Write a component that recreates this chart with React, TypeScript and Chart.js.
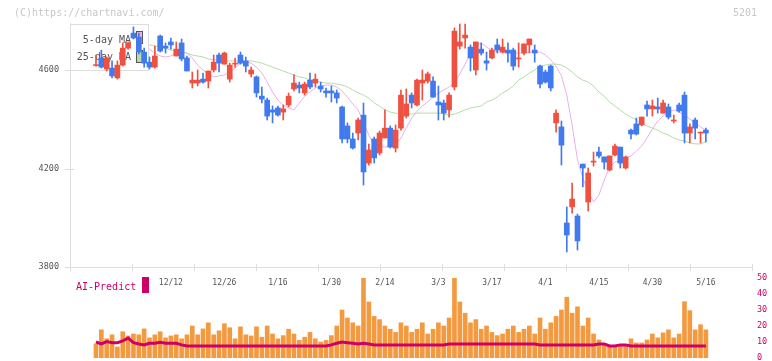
import React, { useEffect, useRef } from 'react';
import { Chart, registerables } from 'chart.js';

Chart.register(...registerables);

const MONO = '"DejaVu Sans Mono", "Liberation Mono", monospace';

// ---- data ----
const X_MIN = -4.86;
const X_MAX = 122.62;
const TICK_INDEX = [14, 24, 34, 44, 54, 64, 74, 84, 94, 104, 114];
const TICK_LABELS = ['12/12', '12/26', '1/16', '1/30', '2/14', '3/3', '3/17', '4/1', '4/15', '4/30', '5/16'];
const PRICE_TICKS = [3800, 4200, 4600];
const PRICE_MIN = 3800;
const PRICE_MAX = 4791;
const VOLUME_TICKS = [0, 10, 20, 30, 40, 50];

const OPEN = [
  4618, 4649, 4604, 4608, 4568, 4620, 4689, 4750, 4734, 4673,
  4632, 4612, 4738, 4697, 4714, 4657, 4710, 4649, 4547, 4547,
  4563, 4555, 4600, 4661, 4624, 4563, 4624, 4661, 4637, 4584,
  4572, 4494, 4478, 4438, 4446, 4429, 4458, 4523, 4539, 4507,
  4559, 4547, 4535, 4515, 4515, 4507, 4450, 4373, 4320, 4344,
  4417, 4222, 4320, 4263, 4324, 4364, 4283, 4364, 4413, 4498,
  4458, 4547, 4555, 4555, 4470, 4466, 4438, 4531, 4697, 4730,
  4693, 4600, 4685, 4637, 4649, 4702, 4673, 4681, 4681, 4645,
  4669, 4702, 4681, 4616, 4592, 4616, 4385, 4369, 3979, 4044,
  4007, 4218, 4064, 4226, 4267, 4247, 4194, 4255, 4287, 4202,
  4356, 4381, 4377, 4458, 4442, 4450, 4425, 4450, 4393, 4458,
  4498, 4344, 4397, 4344, 4356,
];
const HIGH = [
  4661, 4681, 4653, 4637, 4637, 4710, 4714, 4775, 4750, 4689,
  4653, 4697, 4742, 4710, 4730, 4714, 4726, 4657, 4592, 4600,
  4588, 4596, 4661, 4669, 4673, 4628, 4649, 4673, 4653, 4612,
  4576, 4531, 4486, 4454, 4454, 4458, 4507, 4580, 4551, 4551,
  4588, 4584, 4551, 4527, 4535, 4519, 4454, 4385, 4344, 4405,
  4466, 4299, 4328, 4352, 4438, 4373, 4377, 4519, 4523, 4507,
  4563, 4600, 4592, 4572, 4535, 4478, 4507, 4771, 4787, 4787,
  4702, 4714, 4710, 4673, 4689, 4726, 4726, 4710, 4689, 4710,
  4706, 4726, 4702, 4620, 4600, 4620, 4438, 4393, 4044, 4141,
  4015, 4218, 4202, 4267, 4287, 4247, 4251, 4299, 4287, 4251,
  4360, 4405, 4409, 4474, 4478, 4486, 4478, 4462, 4417, 4466,
  4511, 4381, 4405, 4348, 4364,
];
const LOW = [
  4616, 4608, 4596, 4568, 4563, 4616, 4685, 4726, 4665, 4612,
  4604, 4608, 4673, 4669, 4685, 4657, 4637, 4596, 4527, 4535,
  4547, 4527, 4592, 4592, 4624, 4551, 4612, 4624, 4592, 4572,
  4490, 4466, 4397, 4385, 4413, 4397, 4450, 4515, 4507, 4498,
  4523, 4531, 4511, 4490, 4470, 4466, 4304, 4304, 4279, 4316,
  4133, 4214, 4222, 4255, 4324, 4283, 4267, 4356, 4405, 4446,
  4454, 4478, 4547, 4490, 4397, 4397, 4409, 4519, 4685, 4689,
  4596, 4580, 4661, 4600, 4645, 4669, 4669, 4632, 4600, 4612,
  4661, 4669, 4632, 4527, 4547, 4515, 4348, 4214, 3861, 4019,
  3869, 4125, 4027, 4210, 4243, 4198, 4190, 4251, 4202, 4198,
  4320, 4336, 4373, 4413, 4413, 4425, 4425, 4401, 4385, 4429,
  4304, 4304, 4320, 4304, 4308,
];
const CLOSE = [
  4622, 4612, 4649, 4576, 4620, 4689, 4710, 4730, 4673, 4628,
  4612, 4657, 4677, 4689, 4702, 4685, 4645, 4596, 4559, 4559,
  4551, 4596, 4632, 4628, 4669, 4620, 4628, 4628, 4616, 4600,
  4507, 4482, 4413, 4429, 4417, 4442, 4494, 4547, 4527, 4543,
  4531, 4563, 4523, 4507, 4507, 4486, 4320, 4320, 4283, 4397,
  4186, 4275, 4243, 4344, 4364, 4287, 4356, 4498, 4462, 4466,
  4559, 4559, 4584, 4490, 4458, 4425, 4498, 4758, 4714, 4742,
  4649, 4714, 4669, 4628, 4681, 4681, 4693, 4669, 4616, 4649,
  4706, 4726, 4669, 4543, 4551, 4527, 4425, 4295, 3930, 4076,
  3906, 4202, 4182, 4230, 4251, 4226, 4251, 4291, 4222, 4247,
  4340, 4340, 4409, 4442, 4454, 4442, 4466, 4409, 4397, 4434,
  4344, 4369, 4364, 4348, 4344,
];
const MA5 = [
  4633, 4637, 4641, 4641, 4641, 4653, 4665, 4681, 4693, 4689,
  4685, 4669, 4657, 4653, 4657, 4669, 4673, 4669, 4649, 4620,
  4600, 4584, 4572, 4576, 4580, 4592, 4608, 4628, 4633, 4628,
  4612, 4588, 4551, 4511, 4478, 4458, 4446, 4438, 4466, 4494,
  4511, 4527, 4535, 4539, 4539, 4531, 4515, 4490, 4462, 4438,
  4389, 4336, 4295, 4291, 4287, 4291, 4295, 4324, 4364, 4405,
  4433, 4454, 4470, 4490, 4507, 4519, 4531, 4547, 4584, 4624,
  4669, 4698, 4710, 4693, 4681, 4673, 4673, 4669, 4669, 4669,
  4669, 4673, 4673, 4673, 4661, 4641, 4616, 4576, 4498, 4377,
  4235, 4162, 4105, 4064, 4092, 4153, 4206, 4226, 4235, 4243,
  4251, 4271, 4291, 4324, 4360, 4393, 4413, 4429, 4438, 4429,
  4417, 4401, 4385, 4369, 4356,
];
const MA25 = [
  4698, 4698, 4702, 4702, 4702, 4702, 4702, 4702, 4702, 4702,
  4702, 4698, 4693, 4689, 4681, 4677, 4673, 4669, 4661, 4657,
  4653, 4645, 4641, 4641, 4637, 4637, 4637, 4637, 4637, 4637,
  4633, 4628, 4620, 4612, 4604, 4596, 4588, 4580, 4572, 4568,
  4559, 4555, 4551, 4547, 4547, 4543, 4539, 4531, 4519, 4507,
  4498, 4486, 4466, 4454, 4438, 4429, 4425, 4421, 4421, 4421,
  4425, 4425, 4425, 4425, 4425, 4421, 4417, 4421, 4429, 4438,
  4446, 4450, 4454, 4470, 4478, 4490, 4507, 4519, 4535, 4559,
  4572, 4588, 4600, 4616, 4620, 4624, 4624, 4620, 4608, 4592,
  4572, 4559, 4551, 4535, 4511, 4494, 4470, 4454, 4438, 4421,
  4409, 4397, 4381, 4373, 4364, 4356, 4344, 4336, 4324, 4316,
  4312, 4304, 4300, 4300, 4308,
];
const VOLUME = [
  8.8, 17.6, 12, 14.5, 6.9, 16.4, 13.8, 15, 14.5, 18.2,
  12.6, 14.5, 16.4, 12.6, 13.8, 14.5, 12, 14.5, 20, 14.5,
  18.2, 22, 14.5, 17, 21.4, 18.9, 12, 19.5, 14.5, 13.8,
  19.5, 13, 20, 15, 12, 14, 18, 15, 11, 13,
  16, 12, 10, 11, 14, 20, 30, 25, 22, 20,
  55, 35, 26, 24, 20, 18, 16, 22, 20, 16,
  18, 22, 15, 18, 22, 20, 25, 55, 35, 28,
  22, 24, 18, 20, 16, 14, 15, 18, 20, 16,
  18, 20, 15, 25, 18, 22, 26, 30, 38, 28,
  32, 20, 25, 15, 11.3, 8.8, 7.5, 7.5, 7.5, 7.5,
  12, 9.4, 9.4, 11.3, 15, 12.6, 15.7, 17.6, 12.6, 15,
  35.2, 29.6, 17.6, 20.8, 17.6,
];
const AI_PREDICT = [
  10, 8.8, 10.3, 9.6, 9.6, 10.7, 12.4, 9.6, 8.8, 8.2,
  9.2, 9.2, 9.9, 9.2, 9.2, 9.2, 8.2, 7.5, 7.5, 7.5,
  7.5, 7.5, 7.5, 7.5, 7.5, 7.5, 7.5, 7.5, 7.5, 7.5,
  7.5, 7.5, 7.5, 7.5, 7.5, 7.5, 7.5, 7.5, 7.5, 7.5,
  7.5, 7.5, 7.5, 7.5, 8.2, 9.2, 10, 9.6, 9.2, 8.8,
  9.2, 8.8, 8.2, 8.2, 8.2, 8.2, 8.2, 8.2, 8.2, 8.2,
  8.2, 8.2, 8.2, 8.2, 8.2, 8.2, 8.8, 8.8, 8.8, 8.8,
  8.8, 8.8, 8.8, 8.8, 8.8, 8.8, 8.8, 8.8, 8.8, 8.8,
  8.8, 8.8, 8.8, 8.2, 8.2, 8.2, 8.2, 8.2, 8.2, 8.2,
  8.2, 8.2, 8.2, 8.2, 8.8, 8.8, 7.5, 7.5, 8.2, 8.2,
  7.5, 7.5, 7.5, 7.5, 7.5, 7.5, 7.5, 7.5, 7.5, 7.5,
  7.5, 7.5, 7.5, 7.5, 7.5,
];

const UP = '#f0503f';
const DOWN = '#4179ee';
const PINK = '#e9b0ea';
const GREEN = '#b6dca6';
const CRIMSON = '#cc0066';
const ORANGE = '#f39a40';
const AXIS = '#dddddd';

const idx = OPEN.map((_, i) => i);
const candleColors = OPEN.map((o, i) => (CLOSE[i] >= o ? UP : DOWN));

const priceDecor = {
  id: 'priceDecor',
  beforeDatasetDraw(chart: any, args: any) {
    if (args.index !== 2) return; // legend box sits above the MA lines, below the candles
    const ctx = chart.ctx;
    const a = chart.chartArea;
    ctx.save();
    ctx.fillStyle = '#ffffff';
    ctx.fillRect(a.left, a.top + 1, 78, 46);
    ctx.strokeStyle = AXIS;
    ctx.lineWidth = 1;
    ctx.strokeRect(a.left + 0.5, a.top + 1.5, 78, 46);
    ctx.font = '10px ' + MONO;
    ctx.fillStyle = '#555555';
    ctx.textAlign = 'right';
    ctx.textBaseline = 'middle';
    ctx.fillText('5-day MA', a.left + 61, a.top + 17);
    ctx.fillText('25-day MA', a.left + 61, a.top + 34);
    ctx.strokeStyle = '#555555';
    ctx.fillStyle = PINK;
    ctx.fillRect(a.left + 66.5, a.top + 8.5, 6, 12);
    ctx.strokeRect(a.left + 66.5, a.top + 8.5, 6, 12);
    ctx.fillStyle = GREEN;
    ctx.fillRect(a.left + 66.5, a.top + 27.5, 6, 12);
    ctx.strokeRect(a.left + 66.5, a.top + 27.5, 6, 12);
    ctx.restore();
  },
  afterDraw(chart: any) {
    const ctx = chart.ctx;
    const a = chart.chartArea;
    const ys = chart.scales.y;
    ctx.save();
    ctx.strokeStyle = AXIS;
    ctx.lineWidth = 1;
    ctx.beginPath();
    PRICE_TICKS.forEach((v) => {
      const y = Math.round(ys.getPixelForValue(v)) + 0.5;
      ctx.moveTo(a.left - 5, y);
      ctx.lineTo(a.left + 4, y);
    });
    for (let k = 0; k <= 11; k++) {
      const x = Math.round(a.left + (k * (a.right - a.left)) / 11) + 0.5;
      ctx.moveTo(x, a.bottom - 3);
      ctx.lineTo(x, a.bottom + 4);
    }
    ctx.stroke();
    ctx.font = '10px ' + MONO;
    ctx.fillStyle = '#c8c8c8';
    ctx.textBaseline = 'middle';
    ctx.textAlign = 'left';
    ctx.fillText('(C)https://chartnavi.com/', 14, 13);
    ctx.textAlign = 'right';
    ctx.fillText('5201', 757, 13);
    ctx.restore();
  },
};

const volumeDecor = {
  id: 'volumeDecor',
  afterDraw(chart: any) {
    const ctx = chart.ctx;
    ctx.save();
    ctx.font = '10px ' + MONO;
    ctx.fillStyle = CRIMSON;
    ctx.textAlign = 'left';
    ctx.textBaseline = 'middle';
    ctx.fillText('AI-Predict', 76, 287);
    ctx.fillRect(142, 277, 7, 16);
    ctx.restore();
  },
};

export default function App() {
  const priceRef = useRef<HTMLCanvasElement | null>(null);
  const volRef = useRef<HTMLCanvasElement | null>(null);

  useEffect(() => {
    document.body.style.margin = '0';
    const priceChart = new Chart(priceRef.current as HTMLCanvasElement, {
      type: 'bar',
      data: {
        datasets: [
          {
            type: 'line',
            label: '5-day MA',
            data: MA5.map((v, i) => ({ x: i, y: v })),
            borderColor: PINK,
            borderWidth: 1,
            pointRadius: 0,
            order: 4,
          } as any,
          {
            type: 'line',
            label: '25-day MA',
            data: MA25.map((v, i) => ({ x: i, y: v })),
            borderColor: GREEN,
            borderWidth: 1,
            pointRadius: 0,
            order: 3,
          } as any,
          {
            label: 'wick',
            data: idx.map((i) => ({ x: i, y: [LOW[i], HIGH[i]] })),
            backgroundColor: candleColors,
            barThickness: 1,
            grouped: false,
            minBarLength: 1,
            order: 2,
          } as any,
          {
            label: 'body',
            data: idx.map((i) => ({ x: i, y: [OPEN[i], CLOSE[i]] })),
            backgroundColor: candleColors,
            barThickness: 5,
            grouped: false,
            minBarLength: 1,
            order: 1,
          } as any,
        ],
      },
      options: {
        responsive: false,
        animation: false,
        events: [],
        layout: { padding: { top: 23, right: 20, left: 0, bottom: 0 } },
        plugins: { legend: { display: false }, tooltip: { enabled: false } },
        scales: {
          x: {
            type: 'linear',
            min: X_MIN,
            max: X_MAX,
            offset: false,
            grid: { display: false, drawTicks: false },
            border: { color: AXIS },
            afterBuildTicks: (s: any) => {
              s.ticks = TICK_INDEX.map((v) => ({ value: v }));
            },
            afterFit: (s: any) => {
              s.height = 94;
              s.paddingLeft = 0;
              s.paddingRight = 0;
            },
            ticks: {
              autoSkip: false,
              maxRotation: 0,
              padding: 11,
              color: '#555555',
              font: { family: MONO, size: 8 },
              callback: (v: any) => {
                const k = TICK_INDEX.indexOf(Number(v));
                return k >= 0 ? TICK_LABELS[k] : '';
              },
            },
          },
          y: {
            type: 'linear',
            min: PRICE_MIN,
            max: PRICE_MAX,
            grid: { display: false, drawTicks: false },
            border: { color: AXIS },
            afterBuildTicks: (s: any) => {
              s.ticks = PRICE_TICKS.map((v) => ({ value: v }));
            },
            afterFit: (s: any) => {
              s.width = 70;
              s.paddingTop = 0;
              s.paddingBottom = 0;
            },
            ticks: {
              padding: 11,
              color: '#555555',
              font: { family: MONO, size: 8.5 },
              callback: (v: any) => String(v),
            },
          },
        },
      } as any,
      plugins: [priceDecor],
    });

    const volChart = new Chart(volRef.current as HTMLCanvasElement, {
      type: 'bar',
      data: {
        datasets: [
          {
            type: 'line',
            label: 'AI-Predict',
            data: AI_PREDICT.map((v, i) => ({ x: i, y: v })),
            borderColor: CRIMSON,
            borderWidth: 3,
            pointRadius: 0,
            order: 0,
          } as any,
          {
            label: 'volume',
            data: VOLUME.map((v, i) => ({ x: i, y: v })),
            backgroundColor: ORANGE,
            barThickness: 4,
            grouped: false,
            order: 1,
          } as any,
        ],
      },
      options: {
        responsive: false,
        animation: false,
        events: [],
        layout: { padding: { top: 278, right: 0, left: 70, bottom: 3 } },
        plugins: { legend: { display: false }, tooltip: { enabled: false } },
        scales: {
          x: { type: 'linear', min: X_MIN, max: X_MAX, offset: false, display: false },
          y: {
            type: 'linear',
            position: 'right',
            min: 0,
            max: 50,
            grid: { display: false, drawTicks: false },
            border: { display: false },
            afterBuildTicks: (s: any) => {
              s.ticks = VOLUME_TICKS.map((v) => ({ value: v }));
            },
            afterFit: (s: any) => {
              s.width = 20;
              s.paddingTop = 0;
              s.paddingBottom = 0;
            },
            ticks: {
              padding: 5,
              color: CRIMSON,
              font: { family: MONO, size: 8.5 },
              callback: (v: any) => String(v),
            },
          },
        },
      } as any,
      plugins: [volumeDecor],
    });

    return () => {
      priceChart.destroy();
      volChart.destroy();
    };
  }, []);

  return (
    <div style={{ position: 'fixed', left: 0, top: 0, width: 772, height: 361, background: '#fff' }}>
      <canvas ref={priceRef} width={772} height={361} style={{ position: 'absolute', left: 0, top: 0, width: 772, height: 361 }} />
      <canvas ref={volRef} width={772} height={361} style={{ position: 'absolute', left: 0, top: 0, width: 772, height: 361 }} />
    </div>
  );
}
